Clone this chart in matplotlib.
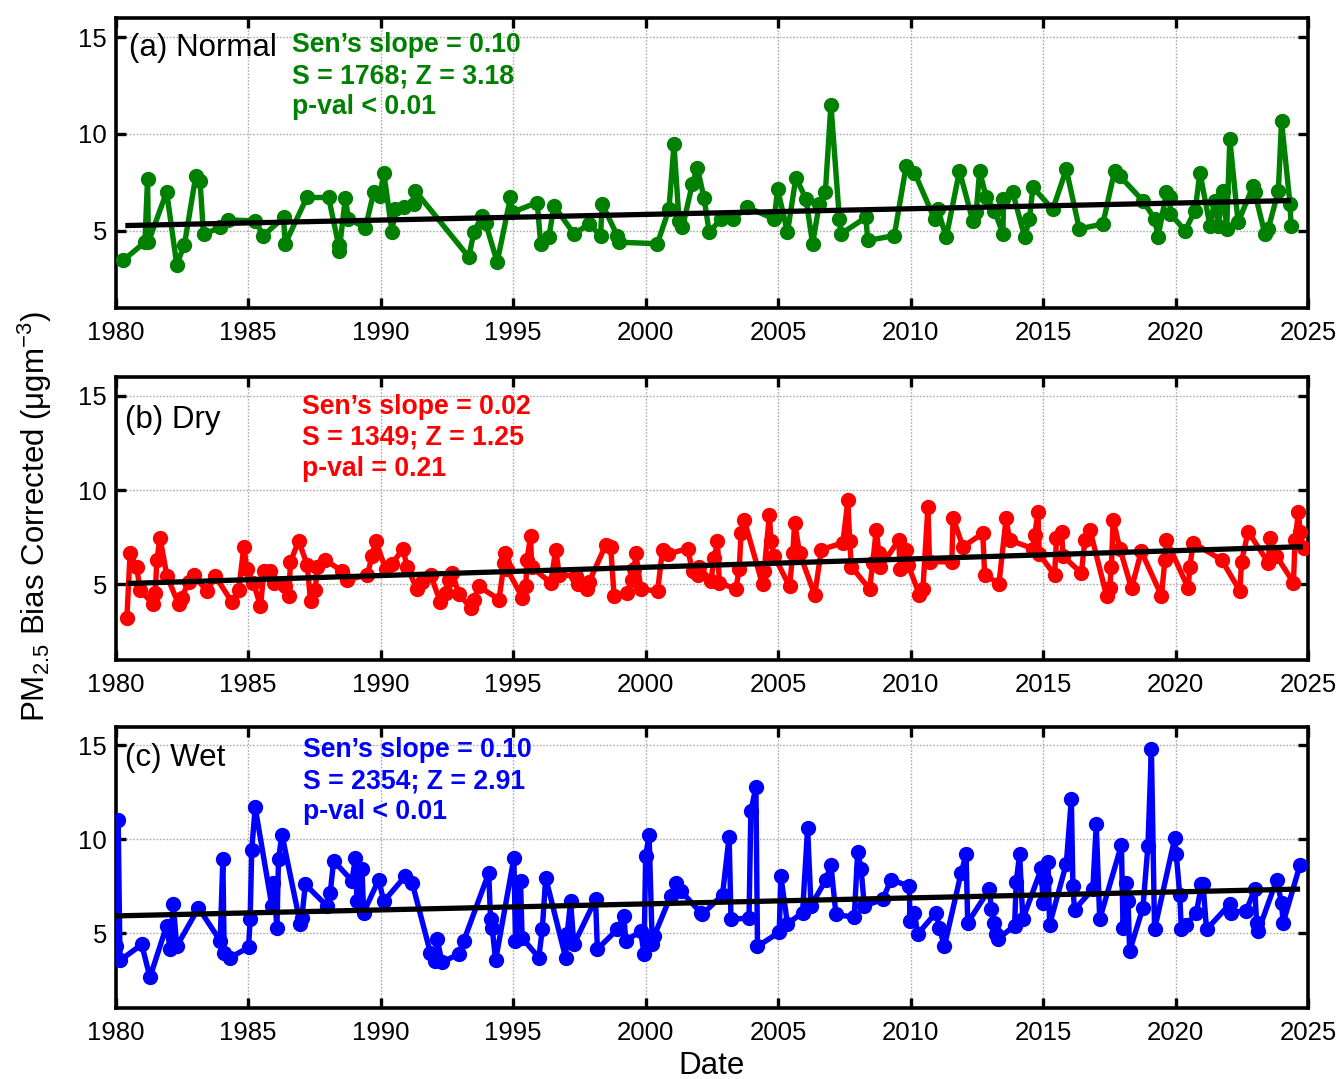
import matplotlib
matplotlib.use("Agg")
import matplotlib.pyplot as plt
import numpy as np

plt.rcParams['font.family'] = ['Liberation Sans', 'DejaVu Sans']
plt.rcParams['mathtext.fontset'] = 'custom'
plt.rcParams['mathtext.rm'] = 'Liberation Sans'
plt.rcParams['mathtext.it'] = 'Liberation Sans:italic'
plt.rcParams['mathtext.bf'] = 'Liberation Sans:bold'

# ---------------- data ----------------
normal_years = [1980.29, 1981.11, 1981.21, 1981.24, 1981.93, 1982.31, 1982.60, 1983.03, 1983.19, 1983.32,
                1983.95, 1984.26, 1985.27, 1985.58, 1986.34, 1986.40, 1987.22, 1988.04, 1988.42, 1988.44,
                1988.67, 1988.79, 1989.43, 1989.74, 1989.98, 1990.12, 1990.43, 1990.56, 1990.87, 1991.25,
                1991.31, 1993.33, 1993.52, 1993.83, 1993.96, 1994.40, 1994.90, 1994.96, 1995.91, 1996.04,
                1996.35, 1996.54, 1997.30, 1997.87, 1998.30, 1998.36, 1998.93, 1999.00, 2000.44, 2000.88,
                2001.07, 2001.26, 2001.39, 2001.76, 2001.95, 2002.20, 2002.40, 2002.84, 2003.28, 2003.84,
                2004.85, 2004.98, 2005.35, 2005.67, 2006.05, 2006.30, 2006.55, 2006.78, 2006.99, 2007.31,
                2007.37, 2008.31, 2008.38, 2009.38, 2009.83, 2010.14, 2010.90, 2011.02, 2011.34, 2011.84,
                2012.34, 2012.47, 2012.60, 2012.85, 2013.16, 2013.48, 2013.50, 2013.85, 2014.30, 2014.48,
                2014.61, 2015.36, 2015.87, 2016.36, 2017.25, 2017.69, 2017.88, 2018.76, 2019.21, 2019.33,
                2019.65, 2019.77, 2019.80, 2020.35, 2020.73, 2020.91, 2021.29, 2021.47, 2021.60, 2021.79,
                2021.92, 2022.04, 2022.35, 2022.92, 2022.98, 2023.36, 2023.49, 2023.87, 2023.99, 2024.31,
                2024.35]
normal_vals = [3.46, 4.40, 7.69, 4.40, 7.00, 3.24, 4.27, 7.83, 7.57, 4.80,
               5.17, 5.55, 5.50, 4.74, 5.68, 4.32, 6.71, 6.71, 4.23, 3.97,
               6.66, 5.60, 5.15, 6.97, 6.80, 8.00, 4.95, 6.10, 6.20, 6.37,
               7.05, 3.63, 4.91, 5.77, 5.40, 3.37, 6.71, 5.94, 6.45, 4.32,
               4.66, 6.28, 4.83, 5.34, 4.74, 6.37, 4.74, 4.40, 4.32, 6.10,
               9.45, 5.51, 5.17, 7.40, 8.25, 6.70, 4.91, 5.60, 5.60, 6.20,
               5.60, 7.14, 4.91, 7.74, 6.63, 4.32, 6.37, 6.97, 11.51, 5.60,
               4.83, 5.68, 4.49, 4.74, 8.34, 8.00, 5.60, 6.10, 4.66, 8.08,
               5.51, 5.94, 8.08, 6.71, 6.03, 4.83, 6.63, 6.97, 4.66, 5.60,
               7.23, 6.10, 8.17, 5.09, 5.34, 8.08, 7.83, 6.54, 5.60, 4.66,
               6.97, 6.71, 5.86, 5.00, 6.03, 8.00, 5.26, 6.54, 5.26, 7.05,
               5.09, 9.71, 5.43, 7.31, 6.97, 4.83, 5.09, 7.05, 10.65, 6.37,
               5.26]

dry_years = [1980.43, 1980.55, 1980.80, 1980.93, 1981.43, 1981.50, 1981.56, 1981.68, 1981.94, 1982.38,
             1982.50, 1982.76, 1982.95, 1983.45, 1983.76, 1984.40, 1984.65, 1984.84, 1984.96, 1985.20,
             1985.47, 1985.60, 1985.84, 1985.97, 1986.40, 1986.54, 1986.60, 1986.91, 1987.23, 1987.36,
             1987.54, 1987.60, 1987.92, 1988.55, 1988.74, 1989.50, 1989.68, 1989.81, 1990.20, 1990.44,
             1990.85, 1991.00, 1991.38, 1991.57, 1991.89, 1992.26, 1992.45, 1992.58, 1992.70, 1992.96,
             1993.40, 1993.52, 1993.71, 1994.47, 1994.66, 1994.70, 1994.78, 1995.35, 1995.48, 1995.52,
             1995.66, 1995.70, 1996.42, 1996.61, 1996.74, 1997.37, 1997.43, 1997.80, 1997.87, 1998.50,
             1998.68, 1998.81, 1999.31, 1999.50, 1999.57, 1999.63, 1999.82, 2000.45, 2000.64, 2000.83,
             2001.58, 2001.77, 2001.96, 2002.02, 2002.46, 2002.59, 2002.71, 2002.78, 2003.40, 2003.53,
             2003.60, 2003.72, 2004.41, 2004.47, 2004.67, 2004.73, 2004.85, 2005.43, 2005.55, 2005.62,
             2005.81, 2006.38, 2006.63, 2007.44, 2007.63, 2007.70, 2007.76, 2008.45, 2008.57, 2008.70,
             2008.80, 2008.85, 2009.55, 2009.60, 2009.83, 2009.90, 2010.33, 2010.46, 2010.65, 2010.71,
             2011.55, 2011.60, 2011.97, 2012.72, 2012.79, 2013.33, 2013.60, 2013.73, 2014.61, 2014.68,
             2014.80, 2014.85, 2015.43, 2015.50, 2015.69, 2015.75, 2016.44, 2016.57, 2016.76, 2017.39,
             2017.51, 2017.57, 2017.64, 2017.89, 2018.33, 2018.70, 2019.46, 2019.59, 2019.65, 2020.47,
             2020.53, 2020.66, 2021.73, 2022.42, 2022.48, 2022.73, 2023.49, 2023.55, 2023.80, 2024.44,
             2024.50, 2024.63, 2024.69, 2024.82]
dry_vals = [3.25, 6.65, 5.90, 4.70, 3.95, 4.55, 6.30, 7.45, 5.45, 3.95,
            4.30, 5.15, 5.50, 4.65, 5.45, 4.05, 4.70, 7.00, 5.80, 5.10,
            3.85, 5.70, 5.70, 5.10, 4.90, 4.40, 6.20, 7.30, 6.05, 4.10,
            4.70, 5.90, 6.30, 5.70, 5.25, 5.50, 6.50, 7.30, 5.80, 6.10,
            6.90, 5.90, 4.75, 5.15, 5.50, 4.05, 4.55, 5.25, 5.60, 4.50,
            3.75, 4.20, 4.90, 4.20, 6.15, 6.65, 5.80, 4.30, 4.90, 6.30,
            7.55, 5.90, 5.10, 6.85, 5.50, 5.45, 5.00, 4.75, 5.15, 7.10,
            7.00, 4.40, 4.55, 5.25, 5.80, 6.65, 4.75, 4.65, 6.85, 6.60,
            6.90, 5.70, 5.50, 5.95, 5.20, 6.40, 7.30, 5.10, 4.75, 5.80,
            7.70, 8.40, 5.00, 5.70, 8.70, 7.30, 6.50, 4.90, 6.65, 8.25,
            6.65, 4.45, 6.85, 7.20, 9.45, 7.30, 5.95, 4.75, 6.15, 7.90,
            6.65, 5.90, 7.35, 5.80, 6.85, 6.05, 4.45, 4.75, 9.10, 6.20,
            6.20, 8.50, 7.00, 7.70, 5.50, 5.05, 8.50, 7.35, 6.90, 7.60,
            8.85, 6.60, 5.50, 7.45, 7.80, 6.50, 5.60, 7.35, 7.90, 4.40,
            4.80, 5.95, 8.40, 6.90, 4.80, 6.75, 4.40, 6.30, 7.35, 4.80,
            5.95, 7.20, 6.30, 4.65, 6.20, 7.80, 6.15, 7.45, 6.50, 5.10,
            7.35, 8.85, 7.80, 6.95]

wet_years = [1980.00, 1980.10, 1980.17, 1980.99, 1981.30, 1981.93, 1982.06, 1982.18, 1982.31, 1983.13,
             1983.95, 1984.05, 1984.10, 1984.33, 1985.02, 1985.08, 1985.14, 1985.27, 1985.90, 1985.96,
             1986.09, 1986.15, 1986.28, 1986.97, 1987.03, 1987.16, 1987.98, 1988.10, 1988.23, 1988.92,
             1989.05, 1989.11, 1989.30, 1989.36, 1989.93, 1990.12, 1990.94, 1991.19, 1991.88, 1992.07,
             1992.13, 1992.32, 1992.95, 1993.14, 1994.08, 1994.15, 1994.21, 1994.34, 1995.03, 1995.09,
             1995.28, 1995.34, 1995.97, 1996.10, 1996.23, 1996.98, 1997.04, 1997.17, 1997.29, 1998.11,
             1998.18, 1998.93, 1999.18, 1999.25, 1999.81, 1999.94, 2000.00, 2000.13, 2000.25, 2000.32,
             2000.95, 2001.14, 2001.33, 2002.08, 2002.14, 2002.90, 2003.15, 2003.22, 2003.90, 2003.97,
             2004.16, 2004.22, 2005.04, 2005.10, 2005.35, 2005.92, 2006.11, 2006.24, 2006.80, 2006.99,
             2007.18, 2007.87, 2008.00, 2008.13, 2008.25, 2008.94, 2009.26, 2009.95, 2009.97, 2010.14,
             2010.26, 2010.96, 2011.08, 2011.27, 2011.90, 2012.09, 2012.15, 2012.97, 2013.04, 2013.16,
             2013.23, 2013.29, 2013.92, 2013.98, 2014.11, 2014.23, 2014.93, 2014.99, 2015.05, 2015.18,
             2015.24, 2015.87, 2016.06, 2016.12, 2016.18, 2016.87, 2017.00, 2017.13, 2017.95, 2018.01,
             2018.14, 2018.20, 2018.26, 2018.76, 2018.95, 2019.08, 2019.20, 2019.96, 2020.02, 2020.15,
             2020.21, 2020.40, 2020.78, 2020.97, 2021.03, 2021.16, 2022.04, 2022.10, 2022.66, 2022.98,
             2023.05, 2023.11, 2023.81, 2023.99, 2024.05, 2024.69]
wet_vals = [4.30, 11.05, 3.55, 4.40, 2.65, 5.40, 4.15, 6.55, 4.30, 6.35,
            4.60, 8.95, 3.95, 3.70, 4.25, 5.75, 9.45, 11.70, 6.45, 7.70,
            5.30, 8.95, 10.25, 5.50, 5.80, 7.60, 6.45, 7.15, 8.85, 7.80,
            9.00, 6.70, 8.40, 6.10, 7.85, 6.70, 8.05, 7.70, 3.95, 3.50,
            4.70, 3.45, 3.90, 4.60, 8.20, 5.75, 5.30, 3.55, 9.00, 4.60,
            7.80, 4.75, 3.70, 5.20, 7.95, 3.70, 4.95, 6.70, 4.40, 6.80,
            4.15, 5.20, 5.90, 4.60, 5.10, 3.90, 9.10, 10.25, 4.40, 4.85,
            7.00, 7.70, 7.25, 6.10, 6.00, 7.05, 10.15, 5.75, 5.80, 11.50,
            12.80, 4.30, 5.05, 8.05, 5.50, 6.10, 10.60, 6.45, 7.85, 8.65,
            6.00, 5.85, 9.35, 8.40, 6.45, 6.80, 7.85, 7.50, 5.65, 6.10,
            4.95, 6.10, 5.30, 4.30, 8.20, 9.20, 5.55, 7.35, 6.30, 5.55,
            4.95, 4.70, 5.40, 7.75, 9.20, 5.75, 8.45, 6.60, 7.85, 8.80,
            5.45, 8.70, 12.15, 7.50, 6.25, 7.35, 10.80, 5.75, 9.70, 5.30,
            7.70, 6.70, 4.05, 6.35, 9.65, 14.80, 5.20, 10.05, 9.20, 7.05,
            5.20, 5.45, 6.10, 7.60, 7.60, 5.20, 6.55, 6.10, 6.20, 7.35,
            5.55, 5.10, 7.85, 6.60, 5.55, 8.65]

# Sen's slope trend line end points
normal_trend_years = [1980.37, 2024.35]
normal_trend_vals = [5.26, 6.55]
dry_trend_years = [1980.43, 2024.80]
dry_trend_vals = [5.05, 7.00]
wet_trend_years = [1979.95, 2024.69]
wet_trend_vals = [5.92, 7.35]

panel_labels = ["(a) Normal", "(b) Dry", "(c) Wet"]
stats_text = [
    ["Sen\u2019s slope = 0.10", "S = 1768; Z = 3.18", "p-val < 0.01"],
    ["Sen\u2019s slope = 0.02", "S = 1349; Z = 1.25", "p-val = 0.21"],
    ["Sen\u2019s slope = 0.10", "S = 2354; Z = 2.91", "p-val < 0.01"],
]
colors = ["#008000", "#ff0000", "#0000ff"]
x_ticks = [1980, 1985, 1990, 1995, 2000, 2005, 2010, 2015, 2020, 2025]
y_ticks = [5, 10, 15]

# ---------------- figure ----------------
W, H = 1338, 1079
fig = plt.figure(figsize=(W / 100, H / 100), dpi=100)

left = 115.5 / W
width = (1308.3 - 115.5) / W
axes_px = [(17.7, 308.0), (376.7, 660.0), (726.7, 1008.3)]

series = [(normal_years, normal_vals, normal_trend_years, normal_trend_vals),
          (dry_years, dry_vals, dry_trend_years, dry_trend_vals),
          (wet_years, wet_vals, wet_trend_years, wet_trend_vals)]

# label positions (axes fraction)
label_pos = [(0.011, 0.896), (0.008, 0.847), (0.008, 0.889)]
stats_x = [0.148, 0.156, 0.157]
stats_y = [[0.906, 0.799, 0.692], [0.893, 0.784, 0.674], [0.917, 0.807, 0.697]]

for i, (top, bot) in enumerate(axes_px):
    ax = fig.add_axes([left, 1 - bot / H, width, (bot - top) / H])
    yrs, vals, tyrs, tvals = series[i]
    ax.plot(yrs, vals, '-o', color=colors[i], lw=3.9, ms=10, zorder=3)
    ax.plot(tyrs, tvals, '-', color='black', lw=3.8, zorder=4, solid_capstyle='butt')
    ax.set_xlim(1980, 2025)
    ax.set_ylim(1, 16)
    ax.set_xticks(x_ticks)
    ax.set_yticks(y_ticks)
    ax.grid(True, color='#ababab', linestyle=(0, (1.2, 1.2)), linewidth=1.0, zorder=0)
    ax.tick_params(direction='in', length=7, width=2.4, top=True, right=True,
                   labelsize=18.5)
    ax.tick_params(axis='x', pad=9)
    ax.tick_params(axis='y', pad=6)
    for sp in ax.spines.values():
        sp.set_linewidth(2.6)
    ax.text(label_pos[i][0], label_pos[i][1], panel_labels[i], transform=ax.transAxes,
            fontsize=22.5, ha='left', va='center', color='black', zorder=5)
    for j, line in enumerate(stats_text[i]):
        ax.text(stats_x[i], stats_y[i][j], line, transform=ax.transAxes, fontsize=19.2,
                fontweight='bold', color=colors[i], ha='left', va='center', zorder=5)

fig.text(35 / W, 1 - 517 / H, 'PM$_{2.5}$ Bias Corrected (\u03bcgm$^{-3}$)',
         rotation=90, ha='center', va='center', fontsize=22.5)
fig.text(712 / W, 1 - 1066 / H, 'Date', ha='center', va='center', fontsize=22.5)

fig.savefig('out.png', dpi=100)
